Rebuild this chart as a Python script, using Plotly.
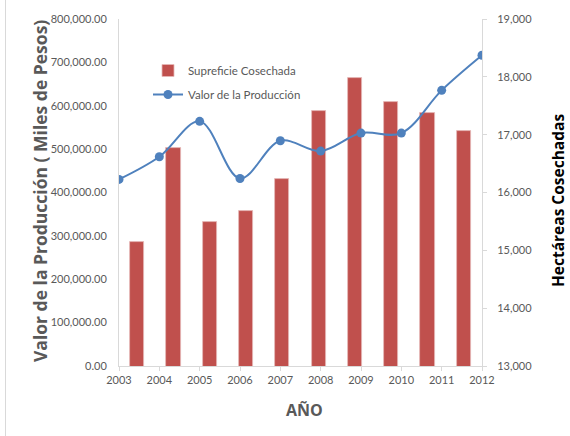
import plotly.graph_objects as go

# Datos
anios = [2003, 2004, 2005, 2006, 2007, 2008, 2009, 2010, 2011, 2012]
hectareas = [15136, 16767, 15487, 15672, 16231, 17403, 17979, 17564, 17368, 17067]
valor_produccion = [430100, 482300, 564000, 432400, 519200, 495400, 537000, 537000, 635500, 716300]

W, H = 570, 436
ML, MR, MT, MB = 119, 88, 19, 70
pw, ph = W - ML - MR, H - MT - MB


def px(x):
    return (x - ML) / pw


def py(y):
    return (H - MB - y) / ph


font_fam = "Lato, 'Open Sans', sans-serif"
title_fam = "'Open Sans', Lato, sans-serif"
gris = "#595959"
eje = "#D9D9D9"

fig = go.Figure()

fig.add_trace(go.Bar(
    x=list(range(len(anios))),
    y=hectareas,
    name="Supreficie Cosechada",
    marker=dict(color="#C0504D", line=dict(color="#E6B9B8", width=0.8)),
    width=0.39,
    xaxis="x", yaxis="y",
    legendgroup="a",
))

fig.add_trace(go.Scatter(
    x=anios,
    y=valor_produccion,
    name="Valor de la Producción",
    mode="lines+markers",
    line=dict(color="#4F81BD", width=2, shape="spline", smoothing=1.0),
    marker=dict(color="#4F81BD", size=9),
    xaxis="x2", yaxis="y2",
    legendgroup="b",
))

fig.update_layout(
    width=W, height=H,
    margin=dict(l=ML, r=MR, t=MT, b=MB),
    paper_bgcolor="white", plot_bgcolor="white",
    font=dict(family=font_fam, size=11, color=gris),
    showlegend=True,
    legend=dict(x=px(148), y=py(56), xanchor="left", yanchor="top",
                bgcolor="rgba(0,0,0,0)", font=dict(size=11.5, color=gris),
                tracegroupgap=5, itemwidth=30),
    bargap=0,
    xaxis=dict(range=[-0.5, len(anios) - 0.5], visible=False, fixedrange=True),
    xaxis2=dict(
        range=[anios[0], anios[-1]], overlaying="x", side="bottom",
        tickmode="array", tickvals=anios, ticktext=[str(a) for a in anios],
        showline=True, linecolor=eje, linewidth=1,
        ticks="outside", ticklen=4, tickcolor=eje,
        showgrid=False, zeroline=False,
        tickfont=dict(size=11, color=gris),
    ),
    yaxis=dict(
        side="right", range=[13000, 19000], dtick=1000,
        tickformat=",d",
        showline=True, linecolor=eje, linewidth=1,
        ticks="outside", ticklen=4, tickcolor=eje,
        ticklabelstandoff=8,
        showgrid=False, zeroline=False,
        tickfont=dict(size=11, color=gris),
    ),
    yaxis2=dict(
        side="left", overlaying="y", range=[0, 800000], dtick=100000,
        tickformat=",.2f",
        showline=True, linecolor=eje, linewidth=1,
        ticks="", ticklabelstandoff=9,
        showgrid=False, zeroline=False,
        tickfont=dict(size=11, color=gris),
    ),
)

fig.add_annotation(
    text="<b>Valor de la Producción ( Miles de Pesos)</b>",
    xref="paper", yref="paper", x=px(40), y=py(191),
    xanchor="center", yanchor="middle", textangle=-90, showarrow=False,
    font=dict(size=17.5, color=gris, family=title_fam),
)
fig.add_annotation(
    text="<b>Hectáreas Cosechadas</b>",
    xref="paper", yref="paper", x=px(558), y=py(201),
    xanchor="center", yanchor="middle", textangle=-90, showarrow=False,
    font=dict(size=15.5, color="#000000", family=title_fam),
)
fig.add_annotation(
    text="<b>AÑO</b>",
    xref="paper", yref="paper", x=px(304), y=py(410),
    xanchor="center", yanchor="middle", showarrow=False,
    font=dict(size=16, color=gris, family=title_fam),
)

# borde izquierdo del área del gráfico
fig.add_shape(type="line", xref="paper", yref="paper",
              x0=px(5.5), x1=px(5.5), y0=py(0), y1=py(H),
              line=dict(color="#D9D9D9", width=1))

fig.write_html("out.html")
